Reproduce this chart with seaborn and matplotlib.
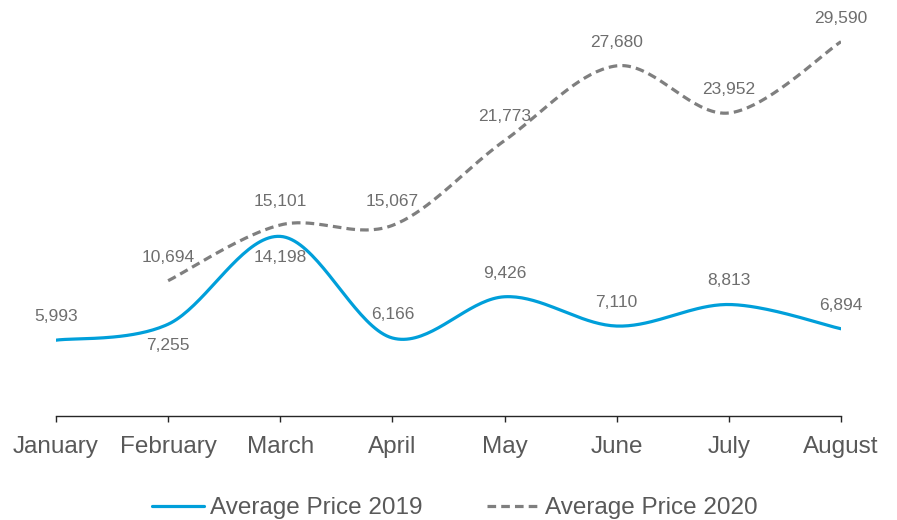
import numpy as np
import pandas as pd
import matplotlib.pyplot as plt
import seaborn as sns

# data
months = ["January", "February", "March", "April", "May", "June", "July", "August"]
price_2019 = [5993, 7255, 14198, 6166, 9426, 7110, 8813, 6894]
price_2020 = [np.nan, 10694, 15101, 15067, 21773, 27680, 23952, 29590]
# where the value label sits: 1 above the point, -1 below
side_2019 = [1, -1, -1, 1, 1, 1, 1, 1]
side_2020 = [1, 1, 1, 1, 1, 1, 1, 1]

BLUE = "#009FDA"
GREY = "#7F7F7F"
TEXT = "#595959"
LABEL = "#6E6E6E"


def smooth(xs, ys, n=40):
    # Excel-like smoothed line: bezier segments with catmull-rom control points
    p = np.column_stack([xs, ys]).astype(float)
    p = np.vstack([p[0], p, p[-1]])
    t = np.linspace(0, 1, n)[:, None]
    pts = []
    for i in range(len(xs) - 1):
        a, b = p[i + 1], p[i + 2]
        c1 = a + (p[i + 2] - p[i]) / 6
        c2 = b - (p[i + 3] - p[i + 1]) / 6
        seg = (1 - t) ** 3 * a + 3 * (1 - t) ** 2 * t * c1 + 3 * (1 - t) * t ** 2 * c2 + t ** 3 * b
        pts.append(seg if i == 0 else seg[1:])
    pts = np.vstack(pts)
    return pts[:, 0], pts[:, 1]


sns.set_theme(style="white")
plt.rcParams["font.family"] = ["Liberation Sans", "DejaVu Sans"]

fig = plt.figure(figsize=(8.97, 5.2), dpi=100)
ax = fig.add_axes([0.0624, 0.2, 0.8752, 0.7785])

x = np.arange(len(months))

sx, sy = smooth(x, price_2019)
sns.lineplot(x=sx, y=sy, sort=False, estimator=None, color=BLUE, linewidth=2.3,
             label="Average Price 2019", ax=ax)

mask = ~np.isnan(price_2020)
sx2, sy2 = smooth(x[mask], np.array(price_2020)[mask])
sns.lineplot(x=sx2, y=sy2, sort=False, estimator=None, color=GREY, linewidth=2.3,
             linestyle=(0, (2.7, 1.6)), label="Average Price 2020", ax=ax)

for xi, v, s in zip(x, price_2019, side_2019):
    ax.annotate(f"{v:,}", (xi, v), xytext=(0, 17 if s > 0 else -15),
                textcoords="offset points", ha="center", va="center",
                fontsize=12.5, color=LABEL)
for xi, v, s in zip(x, price_2020, side_2020):
    if np.isnan(v):
        continue
    ax.annotate(f"{int(v):,}", (xi, v), xytext=(0, 17 if s > 0 else -15),
                textcoords="offset points", ha="center", va="center",
                fontsize=12.5, color=LABEL)

ax.set_xlim(0, len(months) - 1)
ax.set_ylim(0, 32000)
ax.set_xticks(x)
ax.set_xticklabels(months)
ax.set_yticks([])
ax.set_xlabel("")
ax.set_ylabel("")
sns.despine(ax=ax, left=True)
ax.spines["bottom"].set_color("#262626")
ax.spines["bottom"].set_linewidth(1.0)
ax.tick_params(axis="x", bottom=True, length=4.5, width=1.0, color="#262626",
               pad=10, labelsize=17.5, labelcolor=TEXT)
ax.set_facecolor("none")

ax.get_legend().remove()
handles, labels = ax.get_legend_handles_labels()
fig.legend(handles, labels, loc="center", bbox_to_anchor=(0.507, 0.023), ncol=2,
           frameon=False, fontsize=17.5, labelcolor=TEXT, handlelength=2.15,
           handletextpad=0.25, columnspacing=2.65, borderpad=0.2)

fig.savefig("out.png", dpi=100, facecolor="white")
